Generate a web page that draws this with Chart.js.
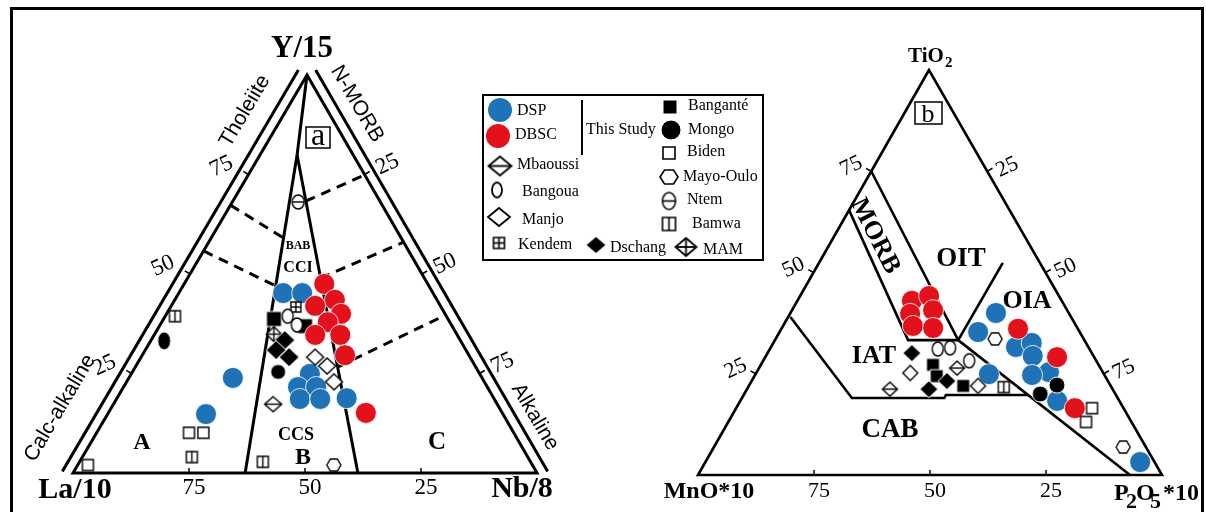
<!DOCTYPE html>
<html>
<head>
<meta charset="utf-8">
<title>La/10–Y/15–Nb/8 and TiO2–MnO*10–P2O5*10 ternary diagrams</title>
<script src="https://cdn.jsdelivr.net/npm/chart.js@4.4.1/dist/chart.umd.min.js"></script>
<style>
  html, body { margin: 0; padding: 0; background: #ffffff; }
  canvas { display: block; }
</style>
</head>
<body>
<canvas id="chart" width="1206" height="512"></canvas>
<script>
// ===== Diagram (a): compositions as [Y/15, La/10, Nb/8] in % =====
const dspA = [
  [45.2, 32.3, 22.5], [45.2, 28.2, 26.6], [23.9, 53.7, 22.4], [14.8, 64.0, 21.2],
  [24.9, 36.6, 38.5], [21.6, 40.8, 37.6], [21.6, 36.9, 41.5], [18.6, 41.9, 39.5],
  [18.6, 37.5, 43.9], [18.8, 31.7, 49.5]
];
const dbscA = [
  [47.5, 22.3, 30.2], [43.5, 22.0, 34.5], [42.0, 27.0, 31.0], [40.0, 22.4, 37.6],
  [37.9, 26.3, 35.8], [34.7, 30.6, 34.7], [34.7, 25.2, 40.1], [29.6, 26.7, 43.7],
  [15.1, 29.4, 55.5]
];
const banganteA = [[38.7, 37.5, 23.8], [36.9, 31.7, 31.4]];
const mongoA = [[33.2, 63.9, 2.9], [25.4, 43.2, 31.4]];
const bidenA = [[2.0, 95.8, 2.2], [10.1, 70.0, 19.9], [10.1, 66.9, 23.0]];
const mayoOuloA = [[2.0, 42.8, 55.2]];
const ntemA = [[68.1, 17.7, 14.2]];
const bamwaA = [[39.4, 58.5, 2.1], [4.0, 72.4, 23.6], [2.8, 57.7, 39.5]];
const mbaoussiA = [[17.3, 48.3, 34.4]];
const bangouaA = [[39.4, 34.2, 26.4], [37.2, 33.3, 29.5]];
const manjoA = [[29.1, 33.4, 37.5], [26.9, 31.9, 41.2], [22.9, 32.4, 44.7]];
const kendemA = [[41.7, 31.3, 27.0]];
const dschangA = [[33.4, 37.8, 28.8], [30.9, 40.9, 28.2], [29.1, 39.0, 31.9]];
const mamA = [[34.9, 39.4, 25.7]];

// ===== Diagram (b): compositions as [TiO2, MnO*10, P2O5*10] in % =====
const dspB = [
  [40.0, 15.7, 44.3], [35.3, 21.9, 42.8], [31.6, 15.6, 52.8], [32.6, 11.7, 55.7],
  [29.4, 13.1, 57.5], [25.4, 11.6, 63.0], [24.7, 15.6, 59.7], [24.9, 24.8, 50.3],
  [18.3, 13.4, 68.3], [3.2, 3.1, 93.7]
];
const dbscB = [
  [43.0, 32.3, 24.7], [44.2, 28.0, 27.8], [39.8, 34.3, 25.9], [40.7, 28.9, 30.4],
  [36.8, 35.2, 28.0], [36.3, 31.1, 32.6], [36.1, 12.9, 51.0], [29.1, 8.0, 62.9],
  [16.5, 10.5, 73.0]
];
const banganteB = [[27.2, 35.7, 37.1], [22.0, 31.8, 46.2], [24.4, 36.3, 39.3]];
const mongoB = [[20.0, 16.2, 63.8], [22.2, 11.5, 66.3]];
const bidenB = [[16.5, 6.8, 76.7], [13.1, 9.8, 77.1]];
const mayoOuloB = [[33.6, 19.1, 47.3], [6.9, 4.9, 88.2]];
const bamwaB = [[21.7, 23.2, 55.1]];
const mbaoussiB = [[21.2, 48.0, 30.8], [26.4, 30.9, 42.7]];
const bangouaB = [[31.1, 32.7, 36.2], [31.4, 29.9, 38.7], [28.2, 27.4, 44.4]];
const manjoB = [[25.2, 41.6, 33.2], [22.0, 28.6, 49.4]];
const dschangB = [[30.1, 38.8, 31.1], [21.2, 39.6, 39.2], [23.2, 34.7, 42.1]];

// ===== Field boundaries (same component order as the samples) =====
const boundsA = [
  [[100, 0, 0], [79.9, 12.1, 8.0]],
  [[79.9, 12.1, 8.0], [0, 62.9, 37.1]],
  [[79.9, 12.1, 8.0], [0, 38.6, 61.4]]
];
const dashedA = [
  [[67.3, 32.7, 0], [59.1, 25.4, 15.5]],
  [[68.3, 16.0, 15.7], [74.9, 0, 25.1]],
  [[55.8, 44.2, 0], [47.0, 33.0, 20.0]],
  [[49.0, 22.4, 28.6], [58.0, 0, 42.0]],
  [[26.6, 29.8, 43.6], [39.7, 0, 60.3]]
];
const boundsB = [
  [[75, 25, 0], [33.3, 27.2, 39.5], [33.3, 38.0, 28.7], [65.4, 34.6, 0]],
  [[33.3, 27.2, 39.5], [52.4, 8.0, 39.6]],
  [[33.3, 27.2, 39.5], [0, 6.9, 93.1]],
  [[39.0, 60.5, 0.5], [19.0, 57.3, 23.7], [19.0, 37.4, 43.6], [19.75, 36.65, 43.6], [19.75, 18.9, 61.35]]
];
const sideTicks = [75, 50, 25];

// Triangle corners in plot units (the plot spans 0–1206 × 0–512)
const triA = { top: [307, 75], left: [73, 473], right: [537, 473] };
const triB = { top: [929, 70], left: [698, 475], right: [1162, 475] };

const SERIF = "'Liberation Serif', 'Times New Roman', serif";
const SANS = "'Liberation Sans', Arial, sans-serif";
const BLUE = '#1f72b6';
const RED = '#e3111c';

function tern(tri, v) {
  const s = v[0] + v[1] + v[2];
  return {
    x: (v[0] * tri.top[0] + v[1] * tri.left[0] + v[2] * tri.right[0]) / s,
    y: (v[0] * tri.top[1] + v[1] * tri.left[1] + v[2] * tri.right[1]) / s
  };
}

// Small canvases used as point glyphs
function makeMarker(kind, w, h, lw) {
  const pad = 2;
  const c = document.createElement('canvas');
  c.width = Math.round(w + pad * 2);
  c.height = Math.round(h + pad * 2);
  const g = c.getContext('2d');
  const cx = c.width / 2, cy = c.height / 2, hw = w / 2, hh = h / 2;
  const filled = kind.startsWith('fill-');
  const shape = kind.replace('fill-', '').replace('open-', '');
  g.lineWidth = filled ? 1 : (lw || 1.4);
  g.strokeStyle = filled ? '#ffffff' : '#000000';
  g.fillStyle = filled ? '#000000' : '#ffffff';
  g.lineJoin = 'miter';
  g.beginPath();
  if (shape.startsWith('square')) {
    g.rect(cx - hw, cy - hh, w, h);
  } else if (shape.startsWith('diamond')) {
    g.moveTo(cx, cy - hh); g.lineTo(cx + hw, cy); g.lineTo(cx, cy + hh); g.lineTo(cx - hw, cy); g.closePath();
  } else if (shape.startsWith('ellipse')) {
    g.ellipse(cx, cy, hw, hh, 0, 0, Math.PI * 2);
  } else if (shape === 'hexagon') {
    g.moveTo(cx - hw, cy); g.lineTo(cx - hw / 2, cy - hh); g.lineTo(cx + hw / 2, cy - hh);
    g.lineTo(cx + hw, cy); g.lineTo(cx + hw / 2, cy + hh); g.lineTo(cx - hw / 2, cy + hh); g.closePath();
  }
  g.fill();
  g.stroke();
  g.strokeStyle = '#000000';
  if (shape.endsWith('V') || shape.endsWith('Plus')) {
    g.beginPath(); g.moveTo(cx, cy - hh); g.lineTo(cx, cy + hh); g.stroke();
  }
  if (shape.endsWith('H') || shape.endsWith('Plus')) {
    g.beginPath(); g.moveTo(cx - hw, cy); g.lineTo(cx + hw, cy); g.stroke();
  }
  return c;
}

const datasets = [];
function addLine(pts, o = {}) {
  datasets.push({
    data: pts, showLine: true, borderColor: '#000000', borderWidth: o.width || 3,
    borderDash: o.dash || [], borderCapStyle: o.cap || 'butt', borderJoinStyle: 'miter',
    pointRadius: 0, pointHoverRadius: 0, fill: false, tension: 0, order: 100, clip: false
  });
}
function addPoints(tri, values, style, o = {}) {
  datasets.push({
    data: values.map(v => tern(tri, v)),
    pointStyle: style, pointRadius: o.r || 6, pointHoverRadius: o.r || 6,
    pointBackgroundColor: o.color || '#000000',
    pointBorderColor: o.border || '#000000', pointBorderWidth: o.bw || 0,
    showLine: false, order: o.order === undefined ? 5 : o.order, clip: false
  });
}

function outline(tri) {
  const T = tern(tri, [100, 0, 0]), L = tern(tri, [0, 100, 0]), R = tern(tri, [0, 0, 100]);
  return [T, L, R, T, L];
}
function outward(tri, a, b) {
  const dx = b.x - a.x, dy = b.y - a.y, len = Math.hypot(dx, dy);
  let nx = dy / len, ny = -dx / len;
  const c = tern(tri, [1, 1, 1]);
  const mx = (a.x + b.x) / 2, my = (a.y + b.y) / 2;
  if (nx * (mx - c.x) + ny * (my - c.y) < 0) { nx = -nx; ny = -ny; }
  return { nx, ny, ux: dx / len, uy: dy / len };
}

// ---- Diagram (a) linework ----
addLine(outline(triA), { width: 3 });
boundsA.forEach(b => addLine(b.map(v => tern(triA, v)), { width: 3 }));
dashedA.forEach(b => addLine(b.map(v => tern(triA, v)), { width: 3, dash: [10, 7] }));
// parallel guide lines outside the two upper sides
[[tern(triA, [100, 0, 0]), tern(triA, [0, 100, 0])], [tern(triA, [100, 0, 0]), tern(triA, [0, 0, 100])]].forEach(([a, b]) => {
  const n = outward(triA, a, b);
  addLine([{ x: a.x + n.nx * 10, y: a.y + n.ny * 10 },
           { x: b.x + n.nx * 10 + n.ux * 4, y: b.y + n.ny * 10 + n.uy * 4 }], { width: 3 });
});

// ---- Diagram (b) linework ----
addLine(outline(triB), { width: 2.6 });
boundsB.forEach(b => addLine(b.map(v => tern(triB, v)), { width: 2.6 }));

// ---- tick marks on all sides ----
function ticks(tri, lw) {
  const T = tern(tri, [100, 0, 0]), L = tern(tri, [0, 100, 0]), R = tern(tri, [0, 0, 100]);
  const nl = outward(tri, T, L), nr = outward(tri, T, R);
  sideTicks.forEach(v => {
    const pl = tern(tri, [v, 100 - v, 0]);
    addLine([pl, { x: pl.x + nl.nx * 6, y: pl.y + nl.ny * 6 }], { width: lw });
    const pr = tern(tri, [100 - v, 0, v]);
    addLine([pr, { x: pr.x + nr.nx * 6, y: pr.y + nr.ny * 6 }], { width: lw });
    const pb = tern(tri, [0, v, 100 - v]);
    addLine([pb, { x: pb.x, y: pb.y - 5 }], { width: lw });
  });
}
ticks(triA, 1.5);
ticks(triB, 1.5);

// ---- sample glyphs ----
const G = {
  sqA: makeMarker('fill-square', 15, 15),
  sqB: makeMarker('fill-square', 13, 13),
  mongoA1: makeMarker('fill-ellipse', 13, 18),
  mongoA2: makeMarker('fill-ellipse', 15, 15),
  mongoB: makeMarker('fill-ellipse', 16, 16),
  biden: makeMarker('open-square', 11, 11),
  hex: makeMarker('open-hexagon', 14, 12),
  ntem: makeMarker('open-ellipseH', 12, 14),
  bamwa: makeMarker('open-squareV', 11, 11),
  mbaoussiA: makeMarker('open-diamondH', 17, 15),
  mbaoussiB: makeMarker('open-diamondH', 15, 14),
  bangoua: makeMarker('open-ellipse', 11, 14),
  manjoA: makeMarker('open-diamond', 17, 16),
  manjoB: makeMarker('open-diamond', 15, 15),
  kendem: makeMarker('open-squarePlus', 10, 10),
  dschangA: makeMarker('fill-diamond', 20, 19),
  dschangB: makeMarker('fill-diamond', 18, 17),
  mam: makeMarker('open-diamondPlus', 15, 15)
};

addPoints(triA, dbscA, 'circle', { r: 10.5, color: RED, border: 'rgba(255,255,255,0.8)', bw: 1, order: 8 });
addPoints(triA, dspA, 'circle', { r: 10.5, color: BLUE, border: 'rgba(255,255,255,0.8)', bw: 1, order: 9 });
addPoints(triA, banganteA, G.sqA, { order: 10 });
addPoints(triA, mongoA, [G.mongoA1, G.mongoA2], { order: 6 });
addPoints(triA, bidenA, G.biden);
addPoints(triA, mayoOuloA, G.hex);
addPoints(triA, ntemA, G.ntem);
addPoints(triA, bamwaA, G.bamwa);
addPoints(triA, mbaoussiA, G.mbaoussiA);
addPoints(triA, bangouaA, G.bangoua);
addPoints(triA, manjoA, G.manjoA);
addPoints(triA, kendemA, G.kendem);
addPoints(triA, dschangA, G.dschangA);
addPoints(triA, mamA, G.mam);

addPoints(triB, dbscB, 'circle', { r: 10.5, color: RED, border: 'rgba(255,255,255,0.8)', bw: 1, order: 8 });
addPoints(triB, dspB, 'circle', { r: 10.5, color: BLUE, border: 'rgba(255,255,255,0.8)', bw: 1, order: 9 });
addPoints(triB, banganteB, G.sqB, { order: 10 });
addPoints(triB, mongoB, G.mongoB, { order: 6 });
addPoints(triB, bidenB, G.biden);
addPoints(triB, mayoOuloB, G.hex);
addPoints(triB, bamwaB, G.bamwa);
addPoints(triB, mbaoussiB, G.mbaoussiB);
addPoints(triB, bangouaB, G.bangoua);
addPoints(triB, manjoB, G.manjoB);
addPoints(triB, dschangB, G.dschangB);

// ---- text ----
const plotTexts = [];
function label(x, y, s, font, o = {}) {
  plotTexts.push({ x, y, s, font, rot: o.rot || 0, align: o.align || 'center', base: o.base || 'middle' });
}
const numFontA = '23px ' + SERIF;
const numFontB = '22px ' + SERIF;
sideTicks.forEach(v => {
  let p = tern(triA, [v, 100 - v, 0]); label(p.x - 27, p.y - 8, String(v), numFontA, { rot: -25 });
  p = tern(triA, [100 - v, 0, v]); label(p.x + 23, p.y - 10, String(v), numFontA, { rot: -25 });
  p = tern(triA, [0, v, 100 - v]); label(p.x + 5, p.y + 15, String(v), numFontA);
  p = tern(triB, [v, 100 - v, 0]); label(p.x - 20, p.y - 5, String(v), numFontB, { rot: -25 });
  p = tern(triB, [100 - v, 0, v]); label(p.x + 20, p.y - 4, String(v), numFontB, { rot: -25 });
  p = tern(triB, [0, v, 100 - v]); label(p.x + 5, p.y + 16, String(v), numFontB);
});

label(302, 49, 'Y/15', 'bold 31px ' + SERIF);
label(75, 490, 'La/10', 'bold 30px ' + SERIF);
label(522, 489, 'Nb/8', 'bold 30px ' + SERIF);
label(245, 111, 'Tholeiite', '21px ' + SANS, { rot: -59.5 });
label(357, 104, 'N-MORB', '21px ' + SANS, { rot: 59.5 });
label(60, 408, 'Calc-alkaline', '21px ' + SANS, { rot: -59.5 });
label(535, 417, 'Alkaline', '21px ' + SANS, { rot: 59.5 });
label(142, 443, 'A', 'bold 24px ' + SERIF);
label(303, 458, 'B', 'bold 24px ' + SERIF);
label(437, 443, 'C', 'bold 25px ' + SERIF);
label(296, 435, 'CCS', 'bold 18px ' + SERIF);
label(298, 268, 'CCI', 'bold 16px ' + SERIF);
label(298, 246, 'BAB', 'bold 12px ' + SERIF);
label(318, 145, 'a', '32px ' + SERIF, { base: 'alphabetic' });

label(908, 57, 'TiO', 'bold 21px ' + SERIF, { align: 'left' });
label(945, 63, '2', 'bold 15px ' + SERIF, { align: 'left' });
label(928, 122, 'b', '26px ' + SERIF, { base: 'alphabetic' });
label(709, 492, 'MnO*10', 'bold 24px ' + SERIF);
label(1114, 500, 'P', 'bold 24px ' + SERIF, { align: 'left', base: 'alphabetic' });
label(1126, 508, '2', 'bold 22px ' + SERIF, { align: 'left', base: 'alphabetic' });
label(1136, 500, 'O', 'bold 24px ' + SERIF, { align: 'left', base: 'alphabetic' });
label(1150, 508, '5', 'bold 22px ' + SERIF, { align: 'left', base: 'alphabetic' });
label(1163, 500, '*10', 'bold 24px ' + SERIF, { align: 'left', base: 'alphabetic' });
label(875, 236, 'MORB', 'bold 26px ' + SERIF, { rot: 63 });
label(961, 259, 'OIT', 'bold 27px ' + SERIF);
label(1027, 301, 'OIA', 'bold 26px ' + SERIF);
label(874, 356, 'IAT', 'bold 26px ' + SERIF);
label(890, 430, 'CAB', 'bold 27px ' + SERIF);

// ---- legend ----
const legendItems = [
  { g: 'blue', mx: 500, my: 110, t: 'DSP', tx: 517, ty: 111 },
  { g: 'red', mx: 498, my: 136, t: 'DBSC', tx: 515, ty: 135 },
  { g: makeMarker('open-diamondH', 23, 19, 1.8), mx: 500, my: 166, t: 'Mbaoussi', tx: 517, ty: 165 },
  { g: makeMarker('open-ellipse', 10, 15, 1.8), mx: 497, my: 190, t: 'Bangoua', tx: 522, ty: 192 },
  { g: makeMarker('open-diamond', 22, 18, 1.8), mx: 499, my: 217, t: 'Manjo', tx: 522, ty: 220 },
  { g: makeMarker('open-squarePlus', 11, 11, 1.6), mx: 499, my: 243, t: 'Kendem', tx: 518, ty: 245 },
  { g: makeMarker('fill-diamond', 20, 17), mx: 596, my: 245, t: 'Dschang', tx: 610, ty: 248 },
  { g: makeMarker('fill-square', 14, 14), mx: 670, my: 107, t: 'Banganté', tx: 688, ty: 106 },
  { g: makeMarker('fill-ellipse', 20, 20), mx: 671, my: 130, t: 'Mongo', tx: 688, ty: 130 },
  { g: makeMarker('open-square', 12, 12, 1.6), mx: 669, my: 153, t: 'Biden', tx: 687, ty: 152 },
  { g: makeMarker('open-hexagon', 18, 14, 1.6), mx: 669, my: 177, t: 'Mayo-Oulo', tx: 683, ty: 177 },
  { g: makeMarker('open-ellipseH', 13, 17, 1.6), mx: 669, my: 201, t: 'Ntem', tx: 687, ty: 200 },
  { g: makeMarker('open-squareV', 13, 13, 1.6), mx: 669, my: 224, t: 'Bamwa', tx: 692, ty: 224 },
  { g: makeMarker('open-diamondPlus', 21, 18, 1.8), mx: 686, my: 247, t: 'MAM', tx: 703, ty: 250 }
];

const annotate = {
  id: 'annotate',
  afterDatasetsDraw(chart) {
    const ctx = chart.ctx, sx = chart.scales.x, sy = chart.scales.y;
    const X = v => sx.getPixelForValue(v), Y = v => sy.getPixelForValue(v);
    ctx.save();
    ctx.fillStyle = '#000000';
    ctx.strokeStyle = '#000000';

    plotTexts.forEach(t => {
      ctx.save();
      ctx.translate(X(t.x), Y(t.y));
      ctx.rotate(t.rot * Math.PI / 180);
      ctx.font = t.font;
      ctx.textAlign = t.align;
      ctx.textBaseline = t.base;
      ctx.fillText(t.s, 0, 0);
      ctx.restore();
    });

    // panel tags
    ctx.lineWidth = 1.5;
    ctx.strokeRect(X(306), Y(127), X(330) - X(306), Y(148) - Y(127));
    ctx.strokeRect(X(915), Y(102), X(942) - X(915), Y(124) - Y(102));

    // legend box
    ctx.lineWidth = 2;
    ctx.strokeRect(X(483), Y(95), X(763) - X(483), Y(260) - Y(95));
    ctx.beginPath();
    ctx.moveTo(X(582), Y(100)); ctx.lineTo(X(582), Y(155));
    ctx.stroke();
    ctx.font = '16px ' + SERIF;
    ctx.textAlign = 'left';
    ctx.textBaseline = 'middle';
    ctx.fillText('This Study', X(586), Y(130));
    legendItems.forEach(it => {
      if (it.g === 'blue' || it.g === 'red') {
        ctx.beginPath();
        ctx.fillStyle = it.g === 'blue' ? BLUE : RED;
        ctx.arc(X(it.mx), Y(it.my), 12, 0, Math.PI * 2);
        ctx.fill();
        ctx.fillStyle = '#000000';
      } else {
        ctx.drawImage(it.g, X(it.mx) - it.g.width / 2, Y(it.my) - it.g.height / 2);
      }
      ctx.fillText(it.t, X(it.tx), Y(it.ty));
    });

    // outer frame
    ctx.lineWidth = 3;
    ctx.strokeRect(X(11.5), Y(8.5), X(1202.5) - X(11.5), Y(520) - Y(8.5));
    ctx.restore();
  }
};

new Chart(document.getElementById('chart'), {
  type: 'scatter',
  data: { datasets },
  options: {
    responsive: false,
    animation: false,
    events: [],
    layout: { padding: 0, autoPadding: false },
    scales: {
      x: { type: 'linear', min: 0, max: 1206, display: false },
      y: { type: 'linear', min: 0, max: 512, reverse: true, display: false }
    },
    plugins: { legend: { display: false }, tooltip: { enabled: false } }
  },
  plugins: [annotate]
});
</script>
</body>
</html>
